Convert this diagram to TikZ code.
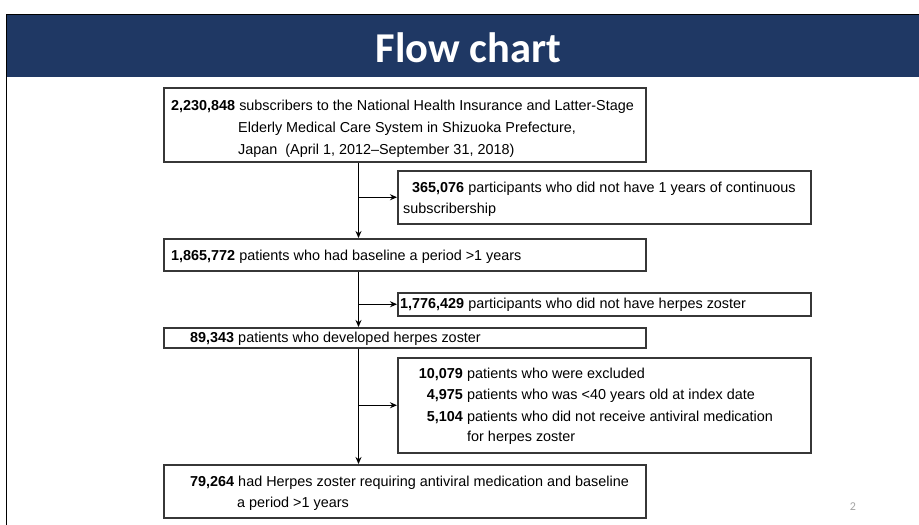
\documentclass[tikz,border=0pt]{standalone}
\usepackage{fontspec}
\setmainfont{Liberation Sans}
\newfontfamily\titlefont{Carlito}
\usetikzlibrary{arrows.meta}
\definecolor{banner}{RGB}{31,56,100}
\definecolor{boxline}{RGB}{55,55,55}
\definecolor{pagenum}{RGB}{165,165,165}
\begin{document}
\begin{tikzpicture}[x=1pt,y=-1pt,
  box/.style={draw=boxline,line width=1.5pt,inner sep=0pt,anchor=north west},
  txt/.style={anchor=base west,inner sep=0pt,font=\fontsize{14.4}{17}\selectfont},
  numr/.style={anchor=base east,inner sep=0pt,font=\fontsize{14.4}{17}\selectfont\bfseries},
  flow/.style={draw=black,line width=1.5pt,-{Stealth[length=7pt,width=6pt]}}]
\useasboundingbox (0,0) rectangle (919,525);
\fill[white] (0,0) rectangle (919,525);
% slide frame and banner
\fill[banner] (6,14) rectangle (919,77);
\draw[black,line width=1pt] (6,525) -- (6,14) -- (919,14);
\node[anchor=base,inner sep=0pt,text=white,font=\titlefont\bfseries\fontsize{42.5}{48}\selectfont] (title) at (468.5,62) {Flow chart};
\node[anchor=center,inner sep=0pt,text=pagenum,font=\titlefont\fontsize{12}{14}\selectfont] (page) at (853,507) {2};
% boxes
\node[box,minimum width=482pt,minimum height=74pt] (b1) at (163,87) {};
\node[box,minimum width=413pt,minimum height=53pt] (b2) at (397,170) {};
\node[box,minimum width=482pt,minimum height=32pt] (b3) at (163,238) {};
\node[box,minimum width=413pt,minimum height=23pt] (b4) at (397,292) {};
\node[box,minimum width=482pt,minimum height=20pt] (b5) at (163,327) {};
\node[box,minimum width=413pt,minimum height=95pt] (b6) at (397,357) {};
\node[box,minimum width=482pt,minimum height=53pt] (b7) at (163,464) {};
% texts
\node[txt] (t1a) at (171,110) {\textbf{2,230,848} subscribers to the National Health Insurance and Latter-Stage};
\node[txt] (t1b) at (238,132) {Elderly Medical Care System in Shizuoka Prefecture,};
\node[txt] (t1c) at (238,154) {Japan\ \ (April 1, 2012--September 31, 2018)};
\node[txt] (t2a) at (412,192) {\textbf{365,076} participants who did not have 1 years of continuous};
\node[txt] (t2b) at (403,213) {subscribership};
\node[txt] (t3) at (171,260) {\textbf{1,865,772} patients who had baseline a period >1 years};
\node[txt] (t4) at (400,308) {\textbf{1,776,429} participants who did not have herpes zoster};
\node[txt] (t5) at (190,342) {\textbf{89,343} patients who developed herpes zoster};
\node[numr] (n6a) at (463,378) {10,079};
\node[txt] (t6a) at (467,378) {patients who were excluded};
\node[numr] (n6b) at (463,399.5) {4,975};
\node[txt] (t6b) at (467,399.5) {patients who was <40 years old at index date};
\node[numr] (n6c) at (463,421) {5,104};
\node[txt] (t6c) at (467,421) {patients who did not receive antiviral medication};
\node[txt] (t6d) at (467,441) {for herpes zoster};
\node[txt] (t7a) at (190,486) {\textbf{79,264} had Herpes zoster requiring antiviral medication and baseline};
\node[txt] (t7b) at (237,507) {a period >1 years};
% connectors
\coordinate (tx) at (358.5,0);
\draw[flow] (b1.south -| tx) -- (b3.north -| tx);
\draw[flow] (b3.south -| tx) -- (b5.north -| tx);
\draw[flow] (b5.south -| tx) -- (b7.north -| tx);
\draw[flow] (b2.west -| tx) -- (b2.west);
\draw[flow] (b4.west -| tx) -- (b4.west);
\draw[flow] (b6.west -| tx) -- (b6.west);
\end{tikzpicture}
\end{document}
